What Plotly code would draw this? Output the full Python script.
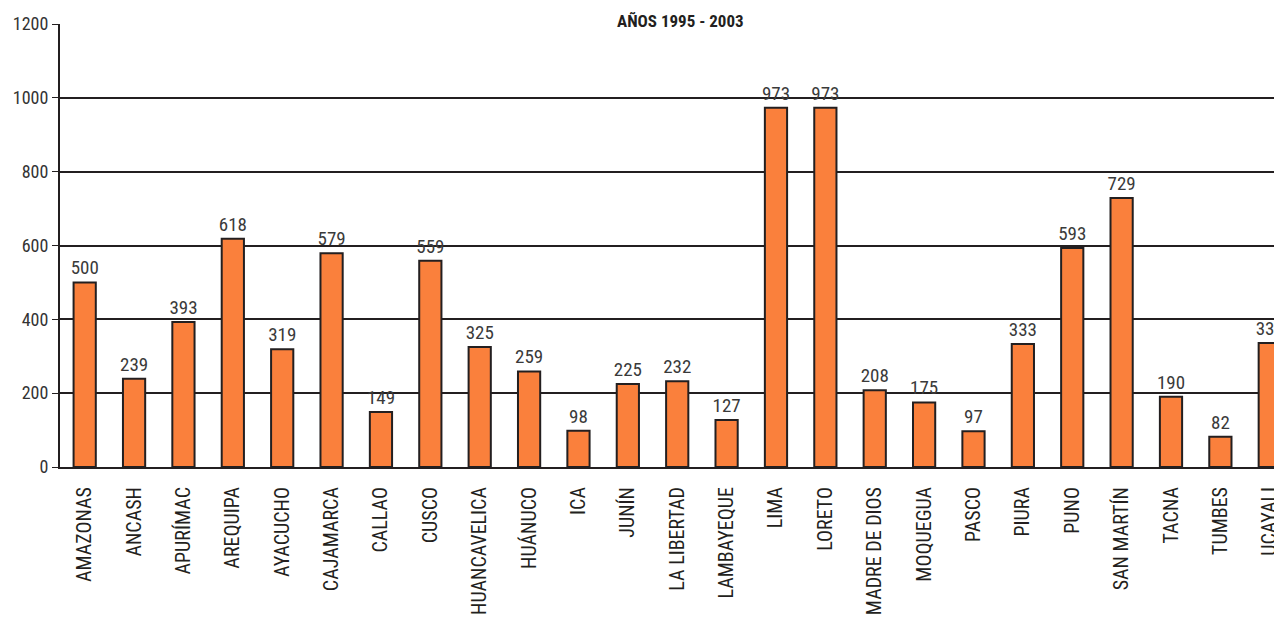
import plotly.graph_objects as go

regiones = ["AMAZONAS", "ANCASH", "APURÍMAC", "AREQUIPA", "AYACUCHO", "CAJAMARCA",
            "CALLAO", "CUSCO", "HUANCAVELICA", "HUÁNUCO", "ICA", "JUNÍN",
            "LA LIBERTAD", "LAMBAYEQUE", "LIMA", "LORETO", "MADRE DE DIOS",
            "MOQUEGUA", "PASCO", "PIURA", "PUNO", "SAN MARTÍN", "TACNA",
            "TUMBES", "UCAYALI"]
valores = [500, 239, 393, 618, 319, 579, 149, 559, 325, 259, 98, 225, 232, 127,
           973, 973, 208, 175, 97, 333, 593, 729, 190, 82, 336]
y_ticks = [0, 200, 400, 600, 800, 1000, 1200]

FONT = "Liberation Sans Narrow, Arial Narrow, Roboto Condensed, Liberation Sans, sans-serif"

fig = go.Figure(go.Bar(
    x=regiones, y=valores,
    marker=dict(color="#FA803C", line=dict(color="#231F20", width=2)),
    text=[str(v) for v in valores], textposition="outside",
    constraintext="none",
    textfont=dict(family=FONT, size=19, color="#3a3a3a"),
    cliponaxis=False,
))

fig.update_layout(
    width=1282, height=617,
    margin=dict(l=52, r=0, t=16, b=158),
    paper_bgcolor="white", plot_bgcolor="white",
    bargap=0.55, showlegend=False,
    font=dict(family=FONT, color="#333333"),
)
fig.add_annotation(text="<b>AÑOS 1995 - 2003</b>", xref="paper", yref="paper",
                   x=0.5045, y=1, yanchor="bottom", yshift=-8, showarrow=False,
                   borderpad=0,
                   font=dict(family=FONT, size=17, color="#231F20"))
fig.update_xaxes(range=[-0.5, 24.41], tickangle=-90, showgrid=False,
                 showline=True, linecolor="#231F20", linewidth=2,
                 tickfont=dict(family=FONT, size=20, color="#231F20"),
                 ticklabelstandoff=10, automargin=False)
fig.update_yaxes(range=[0, 1200], tickvals=y_ticks, showgrid=True,
                 gridcolor="#231F20", gridwidth=1.5, zeroline=False,
                 showline=True, linecolor="#231F20", linewidth=2,
                 ticks="outside", ticklen=6, tickcolor="#231F20",
                 tickfont=dict(family=FONT, size=18, color="#333333"),
                 automargin=False)
fig.write_html("out.html")
